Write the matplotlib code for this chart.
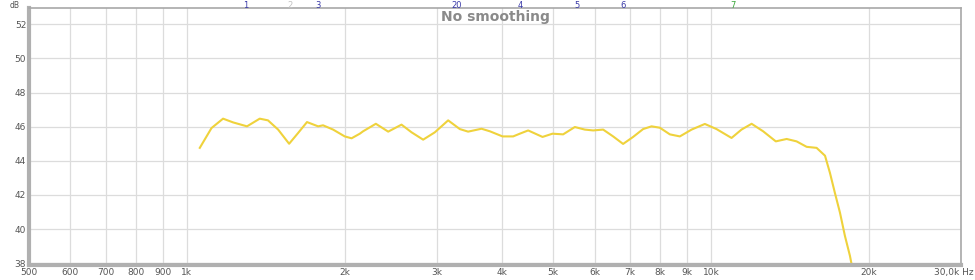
import matplotlib
matplotlib.use('Agg')
import matplotlib.pyplot as plt

# Frequency response (Hz, dB)
freq = [1059, 1115, 1173, 1226, 1303, 1378, 1429, 1494, 1568, 1631, 1696, 1781,
        1820, 1902, 2002, 2063, 2139, 2170, 2295, 2423, 2569, 2685, 2825, 2974,
        3153, 3319, 3442, 3651, 3787, 4004, 4195, 4320, 4481, 4773, 4987, 5225,
        5501, 5747, 5961, 6229, 6509, 6800, 7106, 7425, 7704, 7991, 8351, 8726,
        9188, 9739, 10250, 10950, 11440, 11960, 12580, 13300, 13950, 14570,
        15230, 15910, 16510, 16870, 17240, 17630, 18020, 18420, 18580]
level = [44.76, 45.92, 46.47, 46.25, 46.02, 46.47, 46.37, 45.83, 45.0, 45.63,
         46.27, 46.02, 46.08, 45.83, 45.43, 45.32, 45.59, 45.73, 46.17, 45.71,
         46.12, 45.67, 45.24, 45.67, 46.37, 45.86, 45.71, 45.88, 45.73, 45.43,
         45.43, 45.59, 45.78, 45.40, 45.59, 45.55, 45.98, 45.83, 45.78, 45.83,
         45.43, 44.99, 45.40, 45.86, 46.02, 45.94, 45.55, 45.43, 45.83, 46.16,
         45.86, 45.34, 45.83, 46.17, 45.73, 45.14, 45.28, 45.14, 44.82, 44.76,
         44.30, 43.30, 42.13, 40.97, 39.60, 38.44, 37.85]

x_ticks = [500, 600, 700, 800, 900, 1000, 2000, 3000, 4000, 5000, 6000, 7000,
           8000, 9000, 10000, 20000, 30000]
x_labels = ['500', '600', '700', '800', '900', '1k', '2k', '3k', '4k', '5k',
            '6k', '7k', '8k', '9k', '10k', '20k', '']
y_ticks = [38, 40, 42, 44, 46, 48, 50, 52]

marker_freq = [1296, 1573, 1778, 3270, 4320, 5550, 6790, 11000]
marker_labels = ['1', '2', '3', '20', '4', '5', '6', '7']
marker_colors = ['#3a3aa8', '#c0c0c0', '#3a3aa8', '#3a3aa8', '#3a3aa8',
                 '#3a3aa8', '#3a3aa8', '#3aa83a']

fig = plt.figure(figsize=(9.75, 2.8), dpi=100, facecolor='white')
ax = fig.add_axes([0.0297, 0.0536, 0.9559, 0.9178])
ax.set_facecolor('white')

ax.plot(freq, level, color='#efd23c', linewidth=1.5, solid_joinstyle='round')

ax.set_xscale('log')
ax.set_xlim(500, 30000)
ax.set_ylim(37.9, 52.95)
ax.set_xticks(x_ticks)
ax.set_xticklabels(x_labels)
ax.minorticks_off()
ax.set_yticks(y_ticks)
ax.set_yticklabels([str(v) for v in y_ticks])
ax.tick_params(length=0, labelsize=6.5, colors='#555555', pad=2)
ax.grid(True, color='#dcdcdc', linewidth=0.9)

for side in ['top', 'right']:
    ax.spines[side].set_color('#a8a8a8')
    ax.spines[side].set_linewidth(1.2)
for side in ['left', 'bottom']:
    ax.spines[side].set_color('#b0b0b0')
    ax.spines[side].set_linewidth(3)

ax.text(0.5, 0.965, 'No smoothing', transform=ax.transAxes, ha='center',
        va='center', fontsize=10, fontweight='bold', color='#8a8a8a')

ax.annotate('dB', xy=(0, 1), xycoords='axes fraction', xytext=(-14, 5.3),
            textcoords='offset points', fontsize=5.5, color='#555555',
            ha='left', va='top')
ax.annotate('30,0k Hz', xy=(1, 0), xycoords='axes fraction', xytext=(9, -2),
            textcoords='offset points', fontsize=6.5, color='#555555',
            ha='right', va='top')

for f, lab, c in zip(marker_freq, marker_labels, marker_colors):
    ax.annotate(lab, xy=(f, 1), xycoords=('data', 'axes fraction'),
                xytext=(0, 5.3), textcoords='offset points', fontsize=6,
                color=c, ha='center', va='top')

fig.savefig('out.png', dpi=100, facecolor='white')
